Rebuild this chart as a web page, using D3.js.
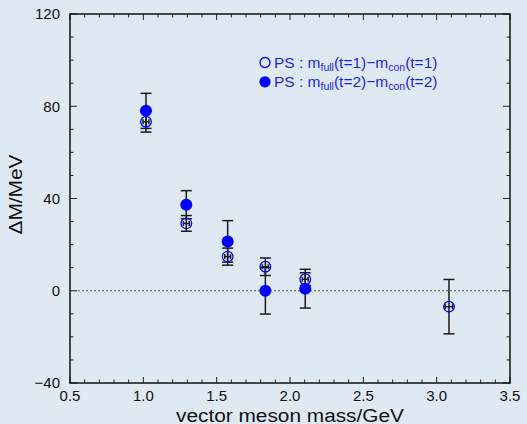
<!DOCTYPE html>
<html>
<head>
<meta charset="utf-8">
<script src="https://cdn.jsdelivr.net/npm/d3@7"></script>
<style>
  html, body { margin: 0; padding: 0; background: #dfe9f3; }
  svg { display: block; font-family: "Liberation Sans", Arial, sans-serif; }
</style>
</head>
<body>
<div id="chart"></div>
<script>
// vector meson masses (GeV)
const mass = [1.018, 1.293, 1.575, 1.832, 2.104, 3.084];
// PS : m_full(t=1) - m_con(t=1)
const dm1 = [73.3, 29.2, 14.8, 10.4, 5.0, -6.9];
const err1 = [4.5, 3.4, 3.7, 3.8, 2.8, 11.8];
const xerr1 = [0.02, 0.02, 0.02, 0.02, 0.02, 0.025];
// PS : m_full(t=2) - m_con(t=2)
const dm2 = [78.0, 37.3, 21.4, 0.0, 0.9];
const err2 = [7.6, 6.1, 9.0, 10.1, 8.4];

const xTicks = [0.5, 1.0, 1.5, 2.0, 2.5, 3.0, 3.5];
const yTicks = [-40, 0, 40, 80, 120];

const width = 527, height = 424;
const margin = {top : 14, right : 17, bottom : 41, left : 70};
const blue = "#0000ff";

const svg = d3.select("#chart").append("svg")
                .attr("width", width)
                .attr("height", height);

const x = d3.scaleLinear().domain([ 0.5, 3.5 ]).range([ margin.left, width - margin.right ]);
const y = d3.scaleLinear().domain([ -40, 120 ]).range([ height - margin.bottom, margin.top ]);

const x0 = x.range()[0], x1 = x.range()[1];
const y0 = y.range()[0], y1 = y.range()[1];

// minor + major ticks, drawn inward on all four sides
const xMinor = d3.range(5, 36).map(d => d / 10);
const yMinor = d3.range(-40, 121, 10);
const ticks = svg.append("g").attr("stroke", "#222").attr("stroke-width", 1);
xMinor.forEach(v => {
  const len = xTicks.some(t => Math.abs(t - v) < 1e-6) ? 6 : 3.5;
  ticks.append("line").attr("x1", x(v)).attr("x2", x(v)).attr("y1", y0).attr("y2", y0 - len);
  ticks.append("line").attr("x1", x(v)).attr("x2", x(v)).attr("y1", y1).attr("y2", y1 + len);
});
yMinor.forEach(v => {
  const len = yTicks.includes(v) ? 7 : 3.5;
  ticks.append("line").attr("y1", y(v)).attr("y2", y(v)).attr("x1", x0).attr("x2", x0 + len);
  ticks.append("line").attr("y1", y(v)).attr("y2", y(v)).attr("x1", x1).attr("x2", x1 - len);
});

// frame
svg.append("rect")
    .attr("x", x0).attr("y", y1)
    .attr("width", x1 - x0).attr("height", y0 - y1)
    .attr("fill", "none").attr("stroke", "#111").attr("stroke-width", 1.5);

// tick labels
svg.append("g").selectAll("text").data(xTicks).join("text")
    .attr("x", d => x(d)).attr("y", y0 + 18)
    .attr("text-anchor", "middle").attr("font-size", 15).attr("fill", "#111")
    .text(d => d.toFixed(1));
svg.append("g").selectAll("text").data(yTicks).join("text")
    .attr("x", x0 - 10).attr("y", d => y(d)).attr("dy", "0.36em")
    .attr("text-anchor", "end").attr("font-size", 15).attr("fill", "#111")
    .text(d => d < 0 ? "\u2212" + Math.abs(d) : d);

// axis titles
svg.append("text")
    .attr("x", (x0 + x1) / 2).attr("y", 421.5)
    .attr("text-anchor", "middle").attr("font-size", 18).attr("fill", "#111")
    .attr("textLength", 228).attr("lengthAdjust", "spacingAndGlyphs")
    .text("vector meson mass/GeV");
svg.append("text")
    .attr("transform", `translate(22,${(y0 + y1) / 2 - 4}) rotate(-90)`)
    .attr("text-anchor", "middle").attr("font-size", 18).attr("fill", "#111")
    .attr("textLength", 80).attr("lengthAdjust", "spacingAndGlyphs")
    .text("\u0394M/MeV");

// zero line
svg.append("line")
    .attr("x1", x0).attr("x2", x1).attr("y1", y(0)).attr("y2", y(0))
    .attr("stroke", "#555").attr("stroke-width", 1.2).attr("stroke-dasharray", "2,2");

// error bars
const bars = svg.append("g").attr("stroke", "#1a1a1a").attr("stroke-width", 1.5).attr("fill", "none");
function errBar(xv, yv, e) {
  const cap = 5.5;
  bars.append("line").attr("x1", x(xv)).attr("x2", x(xv)).attr("y1", y(yv - e)).attr("y2", y(yv + e));
  [yv - e, yv + e].forEach(v => {
    bars.append("line").attr("x1", x(xv) - cap).attr("x2", x(xv) + cap).attr("y1", y(v)).attr("y2", y(v));
  });
}
mass.forEach((m, i) => {
  errBar(m, dm1[i], err1[i]);
  // small horizontal error inside the open symbol
  const xa = x(m - xerr1[i]), xb = x(m + xerr1[i]);
  bars.append("line").attr("x1", xa).attr("x2", xb).attr("y1", y(dm1[i])).attr("y2", y(dm1[i]));
  [xa, xb].forEach(xx => bars.append("line").attr("x1", xx).attr("x2", xx)
                             .attr("y1", y(dm1[i]) - 2.5).attr("y2", y(dm1[i]) + 2.5));
});
dm2.forEach((v, i) => errBar(mass[i], v, err2[i]));

// open symbols
svg.append("g").selectAll("circle").data(mass).join("circle")
    .attr("cx", d => x(d)).attr("cy", (d, i) => y(dm1[i])).attr("r", 5.3)
    .attr("fill", "none").attr("stroke", blue).attr("stroke-width", 1.3);
// filled symbols
svg.append("g").selectAll("circle").data(dm2).join("circle")
    .attr("cx", (d, i) => x(mass[i])).attr("cy", d => y(d)).attr("r", 6)
    .attr("fill", blue);

// legend
const legend = svg.append("g").attr("fill", "#1f1fe6").attr("font-size", 15.5);
const rows = [ {t : "1", open : true, cy : 62.5}, {t : "2", open : false, cy : 81.8} ];
rows.forEach(r => {
  legend.append("circle")
      .attr("cx", 265).attr("cy", r.cy).attr("r", r.open ? 5 : 5.6)
      .attr("fill", r.open ? "none" : blue)
      .attr("stroke", r.open ? blue : "none").attr("stroke-width", 1.3);
  const txt = legend.append("text").attr("x", 274).attr("y", r.cy + 5.5);
  txt.append("tspan").text("PS : m");
  txt.append("tspan").attr("font-size", 10.5).attr("dy", 3).text("full");
  txt.append("tspan").attr("dy", -3).text(`(t=${r.t})\u2212m`);
  txt.append("tspan").attr("font-size", 10.5).attr("dy", 3).text("con");
  txt.append("tspan").attr("dy", -3).text(`(t=${r.t})`);
});
</script>
</body>
</html>
